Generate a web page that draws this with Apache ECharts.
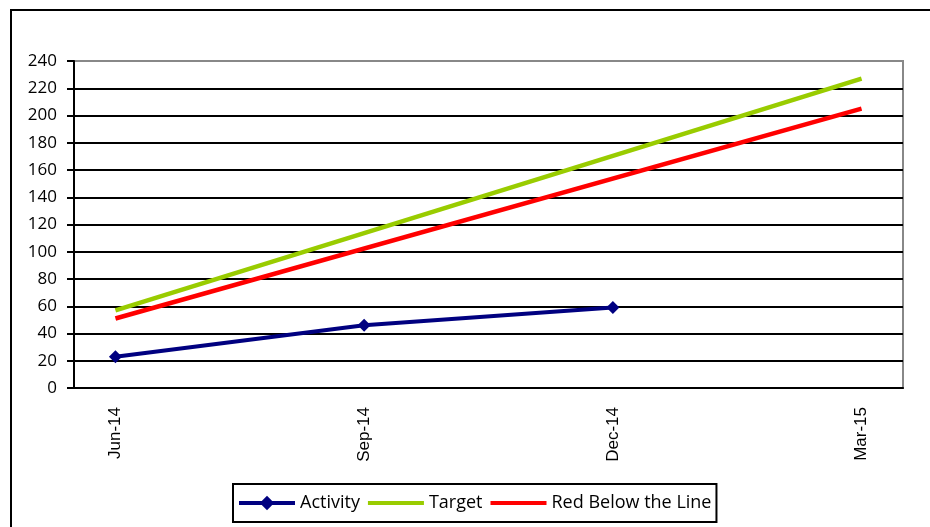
<!DOCTYPE html>
<html><head><meta charset="utf-8">
<script src="https://cdn.jsdelivr.net/npm/echarts@6/dist/echarts.min.js"></script>
<style>html,body{margin:0;padding:0;background:#fff}#c{width:930px;height:527px}</style>
</head><body><div id="c"></div>
<script>
var months = ['Jun-14','Jul-14','Aug-14','Sep-14','Oct-14','Nov-14','Dec-14','Jan-15','Feb-15','Mar-15'];
var activity = [23,null,null,46,null,null,59,null,null,null];
var target = [57,null,null,null,null,null,null,null,null,227];
var redLine = [51,null,null,null,null,null,null,null,null,205];
var yTicks = {min:0,max:240,step:20};

var chart = echarts.init(document.getElementById('c'));
var splitColors = [];
for (var i=0;i<13;i++) splitColors.push(i===12?'#888888':'#000000');
chart.setOption({
  animation:false,
  textStyle:{fontFamily:'Liberation Sans'},
  graphic:[{type:'rect',shape:{x:11,y:10,width:1000,height:1000},style:{fill:'none',stroke:'#000',lineWidth:2},z:-1}],
  grid:{left:74,right:27,top:61,bottom:139,show:true,borderColor:'#888',borderWidth:2,backgroundColor:'transparent'},
  xAxis:{type:'category',data:months,boundaryGap:true,
    axisLine:{lineStyle:{color:'#000',width:2}},
    axisTick:{interval:2,length:7,lineStyle:{color:'#000',width:2}},
    axisLabel:{interval:2,rotate:90,color:'#000',fontSize:17,margin:19,fontFamily:'Liberation Sans'},
    splitLine:{show:false}},
  yAxis:{type:'value',min:yTicks.min,max:yTicks.max,interval:yTicks.step,
    axisLine:{show:true,lineStyle:{color:'#000',width:2}},
    axisTick:{show:true,length:7,lineStyle:{color:'#000',width:2}},
    axisLabel:{color:'#000',fontSize:17,margin:17,fontFamily:'Open Sans'},
    splitLine:{show:true,lineStyle:{color:splitColors,width:2}}},
  legend:{bottom:5,left:233,itemWidth:56,itemHeight:18,itemGap:6,
    borderColor:'#000',borderWidth:2,padding:[10,5,10,4],
    lineStyle:{width:4},
    textStyle:{color:'#000',fontSize:18,fontFamily:'Open Sans'},
    data:[{name:'Activity'},
          {name:'Target',itemStyle:{opacity:0}},
          {name:'Red Below the Line',itemStyle:{opacity:0}}]},
  series:[
    {name:'Activity',type:'line',data:activity,connectNulls:true,symbol:'diamond',symbolSize:13,
      lineStyle:{color:'#000080',width:4},itemStyle:{color:'#000080'},z:3},
    {name:'Target',type:'line',data:target,connectNulls:true,symbol:'none',
      lineStyle:{color:'#99CC00',width:4.5},itemStyle:{color:'#99CC00'}},
    {name:'Red Below the Line',type:'line',data:redLine,connectNulls:true,symbol:'none',
      lineStyle:{color:'#FF0000',width:4.5},itemStyle:{color:'#FF0000'}}
  ]
});
</script></body></html>
